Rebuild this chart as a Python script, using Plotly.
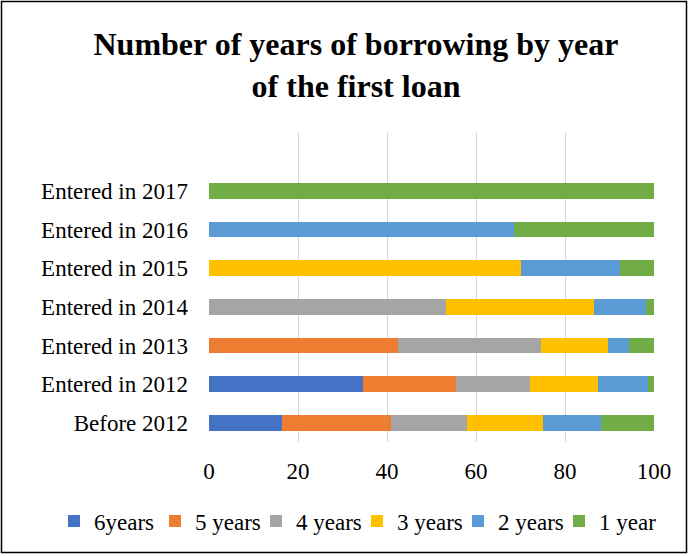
import plotly.graph_objects as go

# Share of borrowers (%) by number of years of borrowing, per year of first loan
categories = ["Before 2012", "Entered in 2012", "Entered in 2013", "Entered in 2014",
              "Entered in 2015", "Entered in 2016", "Entered in 2017"]
series_names = ["6years", "5 years", "4 years", "3 years", "2 years", "1 year"]
six_years   = [16.4, 34.6, 0.0, 0.0, 0.0, 0.0, 0.0]
five_years  = [24.5, 21.0, 42.5, 0.0, 0.0, 0.0, 0.0]
four_years  = [17.1, 16.6, 32.1, 53.3, 0.0, 0.0, 0.0]
three_years = [17.1, 15.3, 15.0, 33.3, 70.0, 0.0, 0.0]
two_years   = [12.9, 11.1, 4.8, 11.7, 22.3, 68.5, 0.0]
one_year    = [12.0, 1.4, 5.6, 1.7, 7.7, 31.5, 100.0]
x_ticks = [0, 20, 40, 60, 80, 100]

values = [six_years, five_years, four_years, three_years, two_years, one_year]
colors = ["#4472C4", "#ED7D31", "#A5A5A5", "#FFC000", "#5B9BD5", "#70AD47"]

W, H = 689, 556
L, R, T, B = 209, 35, 133, 114
FONT = "Liberation Serif, Times New Roman, serif"

fig = go.Figure()
for name, vals, col in zip(series_names, values, colors):
    fig.add_trace(go.Bar(
        y=categories, x=vals, name=name, orientation="h",
        marker=dict(color=col, line=dict(width=0)),
    ))

# chart frame around the whole figure
pw, ph = W - L - R, H - T - B
fig.add_shape(
    type="rect", xref="paper", yref="paper",
    x0=(1.5 - L) / pw, x1=(W - 2.5 - L) / pw,
    y0=-(H - 3.5 - T - ph) / ph, y1=1 + (T - 1.5) / ph,
    line=dict(color="#000000", width=1.5), fillcolor="rgba(0,0,0,0)", layer="below",
)

fig.update_layout(
    width=W, height=H,
    margin=dict(l=L, r=R, t=T, b=B, pad=0, autoexpand=False),
    barmode="stack", bargap=0.59,
    paper_bgcolor="white", plot_bgcolor="white",
    font=dict(family=FONT, size=23, color="#000000"),
    title=dict(
        text="<b>Number of years of borrowing by year<br>of the first loan</b>",
        x=356 / W, xanchor="center", xref="container",
        y=1 - 55 / H, yanchor="top", yref="container",
        font=dict(family=FONT, size=32, color="#000000"),
    ),
    xaxis=dict(
        range=[0, 100], tickvals=x_ticks, showgrid=True, gridcolor="#D6D6D6",
        gridwidth=1.3, zeroline=False, showline=False, ticks="",
        ticklabelstandoff=13, tickfont=dict(size=23),
    ),
    yaxis=dict(
        categoryorder="array", categoryarray=categories, range=[-0.5, 7.5],
        showgrid=False, zeroline=False, showline=False, ticks="",
        ticklabelstandoff=20, tickfont=dict(size=23),
    ),
    # single-row legend under the plot, anchored left of the plot area
    legend=dict(
        orientation="h", xref="paper", x=(54 - L) / pw, xanchor="left",
        yref="paper", y=-(521 - T - ph) / ph, yanchor="middle",
        traceorder="normal", font=dict(size=23), itemclick=False,
        entrywidth=56, entrywidthmode="pixels", bgcolor="rgba(0,0,0,0)",
    ),
    showlegend=True,
)

fig.write_html("out.html")
